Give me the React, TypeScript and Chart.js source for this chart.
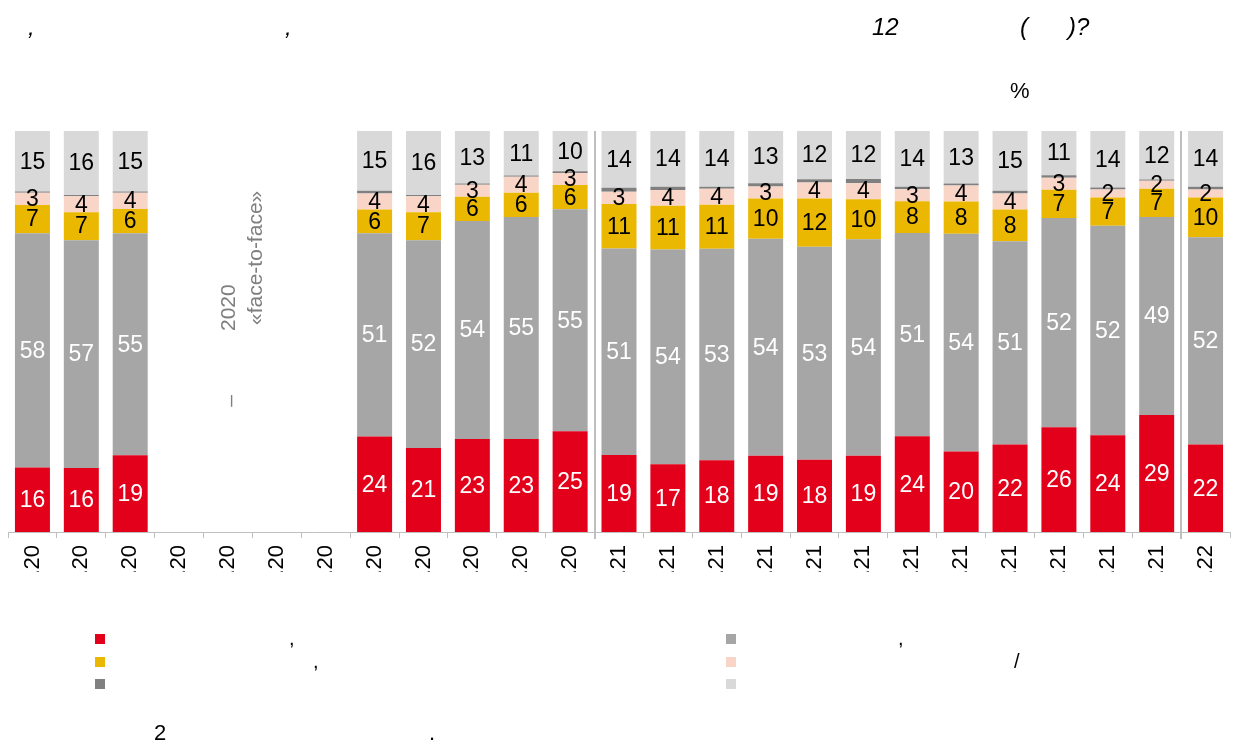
import React, { useEffect, useRef } from "react";
import { Chart, registerables } from "chart.js";
Chart.register(...registerables);

const FONT = '"Liberation Sans", Arial, sans-serif';

const categories = [
  ".20", ".20", ".20", ".20", ".20", ".20", ".20", ".20", ".20", ".20", ".20", ".20",
  ".21", ".21", ".21", ".21", ".21", ".21", ".21", ".21", ".21", ".21", ".21", ".21",
  ".22",
];

const N = null;
const redValues = [16, 16, 19, N, N, N, N, 24, 21, 23, 23, 25, 19, 17, 18, 19, 18, 19, 24, 20, 22, 26, 24, 29, 22];
const grayValues = [58, 57, 55, N, N, N, N, 51, 52, 54, 55, 55, 51, 54, 53, 54, 53, 54, 51, 54, 51, 52, 52, 49, 52];
const yellowValues = [7, 7, 6, N, N, N, N, 6, 7, 6, 6, 6, 11, 11, 11, 10, 12, 10, 8, 8, 8, 7, 7, 7, 10];
const peachValues = [3, 4, 4, N, N, N, N, 4, 4, 3, 4, 3, 3, 4, 4, 3, 4, 4, 3, 4, 4, 3, 2, 2, 2];
const darkGrayValues = [0.3, 0.3, 0.3, N, N, N, N, 0.7, 0.3, 0.3, 0.3, 0.4, 1, 0.8, 0.5, 0.8, 0.8, 1, 0.6, 0.5, 0.7, 0.6, 0.5, 0.3, 0.7];
const lightGrayValues = [15, 16, 15, N, N, N, N, 15, 16, 13, 11, 10, 14, 14, 14, 13, 12, 12, 14, 13, 15, 11, 14, 12, 14];

const seriesValues = [redValues, grayValues, yellowValues, peachValues, darkGrayValues, lightGrayValues];
const seriesColors = ["#E2001A", "#A6A6A6", "#EAB800", "#F8D5C7", "#808080", "#D9D9D9"];
const labelColors = ["#FFFFFF", "#FFFFFF", "#000000", "#000000", null, "#000000"];

// visible fragments of the title / legend / note
const titleFragments = [",", ",", "12", "(", ")?"];
const legendFragments = [",", ",", ",", "/"];
const noteFragments = ["2", "."];
const gapFragments = ["2020", "«face-to-face»", "–"];

function totals(): number[] {
  return categories.map((_, i) => {
    let s = 0;
    seriesValues.forEach((arr) => {
      const v = arr[i];
      if (v != null) s += v;
    });
    return s;
  });
}

const overlayPlugin = {
  id: "overlay",
  afterDatasetsDraw(chart: any) {
    const ctx = chart.ctx;
    ctx.save();
    ctx.font = `23px ${FONT}`;
    ctx.textAlign = "center";
    ctx.textBaseline = "middle";
    chart.data.datasets.forEach((ds: any, di: number) => {
      const col = labelColors[di];
      if (!col) return;
      const meta = chart.getDatasetMeta(di);
      meta.data.forEach((el: any, i: number) => {
        const v = seriesValues[di][i];
        if (v == null) return;
        const p = el.getProps(["x", "y", "base"], true);
        ctx.fillStyle = col;
        ctx.fillText(String(v), p.x, (p.y + p.base) / 2 + 1);
      });
    });
    ctx.restore();
  },
  afterDraw(chart: any) {
    const ctx = chart.ctx;
    const xs = chart.scales.x;
    const area = chart.chartArea;
    ctx.save();
    // year separators
    ctx.strokeStyle = "#BFBFBF";
    ctx.lineWidth = 2;
    [11, 23].forEach((i) => {
      const x = Math.round((xs.getPixelForValue(i) + xs.getPixelForValue(i + 1)) / 2);
      ctx.beginPath();
      ctx.moveTo(x, area.top);
      ctx.lineTo(x, area.bottom + 7);
      ctx.stroke();
    });

    // rotated note in the gap
    ctx.fillStyle = "#7F7F7F";
    ctx.font = `21px ${FONT}`;
    ctx.textBaseline = "middle";
    const rot = (text: string, x: number, y: number, align: CanvasTextAlign) => {
      ctx.save();
      ctx.translate(x, y);
      ctx.rotate(-Math.PI / 2);
      ctx.textAlign = align;
      ctx.fillText(text, 0, 0);
      ctx.restore();
    };
    rot(gapFragments[0], 229, 331, "left");
    rot(gapFragments[1], 256, 325, "left");
    rot(gapFragments[2], 231, 401, "center");

    // title
    ctx.fillStyle = "#000";
    ctx.textBaseline = "alphabetic";
    ctx.textAlign = "left";
    ctx.font = `italic 24px ${FONT}`;
    ctx.fillText(titleFragments[0], 28, 35);
    ctx.fillText(titleFragments[1], 285, 35);
    ctx.fillText(titleFragments[2], 872, 35);
    ctx.fillText(titleFragments[3], 1020, 35);
    ctx.fillText(titleFragments[4], 1068, 35);
    ctx.font = `22px ${FONT}`;
    ctx.fillText("%", 1010, 98);

    // legend
    const sq = [
      [95, 634, 0], [726, 634, 1],
      [95, 657, 2], [726, 657, 3],
      [95, 679, 4], [726, 679, 5],
    ];
    sq.forEach(([x, y, c]) => {
      ctx.fillStyle = seriesColors[c];
      ctx.fillRect(x, y, 10, 10);
    });
    ctx.fillStyle = "#000";
    ctx.font = `20px ${FONT}`;
    ctx.fillText(legendFragments[0], 289, 645);
    ctx.fillText(legendFragments[1], 313, 668);
    ctx.fillText(legendFragments[2], 898, 645);
    ctx.fillText(legendFragments[3], 1014, 668);

    // note
    ctx.font = `22px ${FONT}`;
    ctx.fillText(noteFragments[0], 154, 740);
    ctx.fillText(noteFragments[1], 429, 740);
    ctx.restore();
  },
};

export default function App() {
  const ref = useRef<HTMLCanvasElement | null>(null);
  useEffect(() => {
    if (!ref.current) return;
    const tot = totals();
    const datasets = seriesValues.map((arr, di) => ({
      label: "s" + di,
      data: arr.map((v, i) => (v == null ? null : (v / tot[i]) * 100)),
      backgroundColor: seriesColors[di],
      borderWidth: 0,
      barPercentage: 0.716,
      categoryPercentage: 1,
    }));
    const chart = new Chart(ref.current, {
      type: "bar",
      data: { labels: categories, datasets },
      options: {
        responsive: false,
        animation: false,
        devicePixelRatio: 1,
        layout: { padding: { left: 8, right: 3, top: 131, bottom: 173 } },
        plugins: { legend: { display: false }, tooltip: { enabled: false }, title: { display: false } },
        scales: {
          x: {
            stacked: true,
            grid: { display: true, drawOnChartArea: false, drawTicks: true, tickLength: 6, color: "#BFBFBF", offset: true },
            border: { display: true, color: "#BFBFBF", width: 1 },
            ticks: { font: { size: 22, family: FONT }, color: "#000", minRotation: 90, maxRotation: 90, autoSkip: false, padding: 7 },
            afterFit: (s: any) => {
              s.height = 40;
              s.paddingLeft = 0;
              s.paddingRight = 0;
            },
          },
          y: { stacked: true, display: false, min: 0, max: 100 },
        },
      },
      plugins: [overlayPlugin],
    });
    return () => chart.destroy();
  }, []);
  return (
    <div style={{ position: "fixed", left: 0, top: 0, width: 1233, height: 745, background: "#fff" }}>
      <canvas ref={ref} width={1233} height={745} style={{ display: "block" }} />
    </div>
  );
}
